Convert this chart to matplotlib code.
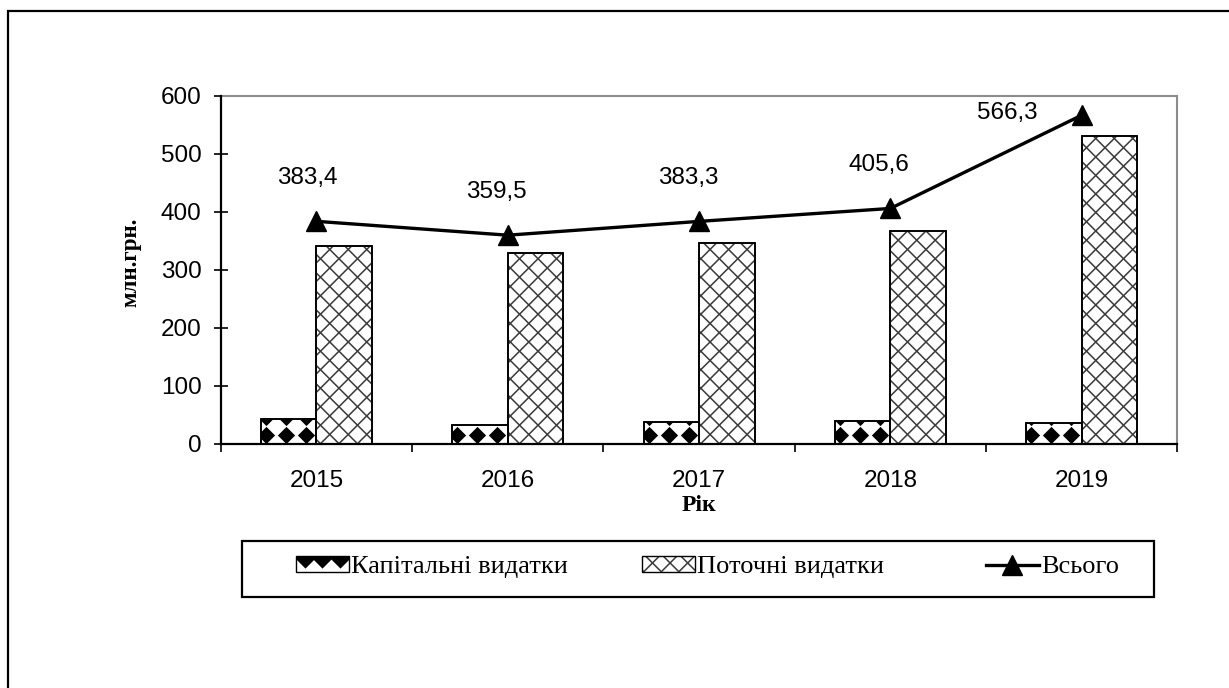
import matplotlib
matplotlib.use("Agg")
import matplotlib.pyplot as plt
import numpy as np
from matplotlib.patches import Rectangle
from matplotlib.lines import Line2D
from matplotlib.collections import LineCollection
from matplotlib.legend_handler import HandlerBase

# ---- data ----
years = ["2015", "2016", "2017", "2018", "2019"]
capital = [42.0, 31.5, 38.0, 39.0, 35.0]
current = [341.4, 328.0, 345.3, 366.6, 531.3]
total = [383.4, 359.5, 383.3, 405.6, 566.3]
total_labels = ["383,4", "359,5", "383,3", "405,6", "566,3"]
yticks = [0, 100, 200, 300, 400, 500, 600]
legend_labels = ["Капітальні видатки", "Поточні видатки", "Всього"]

# label offsets (pixels) – style only
lab_dx = [-9, -11, -11, -11, -74]
lab_dy = [43, 43, 43, 43, 2]

SANS = "Liberation Sans"
SERIF = "Liberation Serif"
W, H = 1229, 688
DIAMOND = [(0, 1), (1, 0), (0, -1), (-1, 0), (0, 1)]

fig = plt.figure(figsize=(W / 100, H / 100), dpi=100)
fig.patch.set_facecolor("white")

# outer frame (cropped on right and bottom)
fig.patches.append(Rectangle((7.5 / W, -0.2), 1.3, 1.2 - 10.7 / H,
                             transform=fig.transFigure, fill=False,
                             edgecolor="black", linewidth=1.6))

left, right = 220.85 / W, 1177.3 / W
bottom, top = 1 - 443.7 / H, 1 - 95.7 / H
ax = fig.add_axes([left, bottom, right - left, top - bottom])

x = np.arange(len(years))
bw = 0.29
ax.set_xlim(-0.5, len(years) - 0.5)
ax.set_ylim(0, 600)

px_x = (len(years)) / ((right - left) * W)     # data per pixel in x
px_y = 600.0 / ((top - bottom) * H)            # data per pixel in y


def crosshatch_segments(w_px, h_px, step):
    """45-degree cross lines covering a box, in pixel offsets."""
    segs = []
    c = -h_px
    while c < w_px + h_px:
        segs.append([(c, 0), (c + h_px + w_px, h_px + w_px)])
        segs.append([(c, 0), (c - h_px - w_px, h_px + w_px)])
        c += step
    return segs


cap_bars = ax.bar(x - bw / 2, capital, width=bw, facecolor="white",
                  edgecolor="black", linewidth=1.2, zorder=2)
cur_bars = ax.bar(x + bw / 2, current, width=bw, facecolor="white",
                  edgecolor="black", linewidth=1.2, zorder=2)

# crosshatch texture for current bars
for b in cur_bars:
    w_px = b.get_width() / px_x
    h_px = b.get_height() / px_y
    segs = crosshatch_segments(w_px, h_px, 18.5)
    segs_d = [[(b.get_x() + (sx - 1.5) * px_x, sy * px_y) for sx, sy in s]
              for s in segs]
    lc = LineCollection(segs_d, colors="#3a3a3a", linewidths=1.1, zorder=2.5)
    ax.add_collection(lc)
    lc.set_clip_path(b)
    ax.add_patch(Rectangle((b.get_x(), 0), b.get_width(), b.get_height(),
                           fill=False, edgecolor="black", linewidth=1.2,
                           zorder=3))

# diamond texture for capital bars
for b in cap_bars:
    x0 = b.get_x()
    hgt = b.get_height()
    xs, ys = [], []
    cx = x0 + 5 * px_x
    while cx < x0 + b.get_width() + 10 * px_x:
        cy = 8.5 * px_y
        while cy < hgt + 10 * px_y:
            xs.append(cx)
            ys.append(cy)
            cy += 18 * px_y
        cx += 20 * px_x
    ln, = ax.plot(xs, ys, ls="none", marker=DIAMOND, ms=12.4,
                  color="black", markeredgewidth=0, zorder=2.5)
    ln.set_clip_path(b)
    ax.add_patch(Rectangle((b.get_x(), 0), b.get_width(), hgt, fill=False,
                           edgecolor="black", linewidth=1.2, zorder=3))

# total line
ax.plot(x, total, color="black", linewidth=2.4, marker="^", ms=15,
        zorder=4, clip_on=False)
for i, (xv, yv) in enumerate(zip(x, total)):
    ax.annotate(total_labels[i], (xv, yv), xytext=(lab_dx[i], lab_dy[i]),
                textcoords="offset pixels", ha="center", va="center",
                fontsize=17.5, family=SANS, zorder=5)

# axes styling
for s in ["top", "right"]:
    ax.spines[s].set_color("#8c8c8c")
    ax.spines[s].set_linewidth(1.5)
for s in ["left", "bottom"]:
    ax.spines[s].set_color("black")
    ax.spines[s].set_linewidth(1.6)
    ax.spines[s].set_zorder(6)

ax.set_yticks(yticks)
ax.set_yticklabels([str(v) for v in yticks], family=SANS, fontsize=17.5)
ax.tick_params(axis="y", direction="inout", length=10, width=1.2, pad=9)
ax.set_xticks(x)
ax.set_xticklabels(years, family=SANS, fontsize=17.5)
ax.tick_params(axis="x", which="major", length=0, pad=19)
ax.set_xticks(np.arange(-0.5, len(years), 1.0), minor=True)
ax.tick_params(axis="x", which="minor", direction="out", length=6, width=1.2)

ax.set_ylabel("млн.грн.", family=SERIF, fontsize=16.5, fontweight="bold")
ax.yaxis.set_label_coords((141 - 220.85) / ((right - left) * W), 0.52)
ax.set_xlabel("Рік", family=SERIF, fontsize=17, fontweight="bold")
ax.xaxis.set_label_coords(0.5, -(495 - 443.7) / ((top - bottom) * H))


# legend
class TextureHandler(HandlerBase):
    def __init__(self, kind):
        super().__init__()
        self.kind = kind

    def create_artists(self, legend, orig_handle, xdescent, ydescent,
                       width, height, fontsize, trans):
        x0, y0 = -xdescent, -ydescent
        rect = Rectangle((x0, y0), width, height, facecolor="white",
                         edgecolor="none", transform=trans)
        arts = [rect]
        if self.kind == "diamond":
            n = 3
            xs = [x0 + width * (i + 0.5) / n for i in range(n)]
            ys = [y0 + height * 0.95] * n
            ln = Line2D(xs, ys, marker=DIAMOND, ms=16, ls="none",
                        color="black", markeredgewidth=0, transform=trans)
            ln.set_clip_path(rect)
            arts.append(ln)
        else:
            step = width / 3.0
            segs = []
            c = -height
            while c < width + height:
                segs.append([(x0 + c, y0), (x0 + c + height, y0 + height)])
                segs.append([(x0 + c, y0), (x0 + c - height, y0 + height)])
                c += step
            lc = LineCollection(segs, colors="#3a3a3a", linewidths=1.1,
                                transform=trans)
            lc.set_clip_path(rect)
            arts.append(lc)
        edge = Rectangle((x0, y0), width, height, fill=False,
                         edgecolor="black", lw=1.0, transform=trans)
        arts.append(edge)
        return arts


cap_handle = Rectangle((0, 0), 1, 1)
cur_handle = Rectangle((0, 0), 1, 1)
tot_handle = Line2D([], [], color="black", linewidth=2.4, marker="^", ms=15)

# legend box
lb_l, lb_r, lb_t, lb_b = 242, 1154, 541, 597
fig.patches.append(Rectangle((lb_l / W, 1 - lb_b / H), (lb_r - lb_l) / W,
                             (lb_b - lb_t) / H, transform=fig.transFigure,
                             fill=False, edgecolor="black", linewidth=1.6))

handles = [cap_handle, cur_handle, tot_handle]
hmap = {cap_handle: TextureHandler("diamond"),
        cur_handle: TextureHandler("cross")}
entry_x = [296, 642, 986]
for h, lab, ex in zip(handles, legend_labels, entry_x):
    lg = fig.legend([h], [lab], handler_map=hmap, loc="center left",
                    bbox_to_anchor=(ex / W, 1 - 567 / H), frameon=False,
                    prop={"family": SERIF, "size": 19},
                    handlelength=2.0, handleheight=0.55, handletextpad=0.08,
                    borderpad=0, borderaxespad=0)

fig.savefig("out.png", dpi=100, facecolor="white")
